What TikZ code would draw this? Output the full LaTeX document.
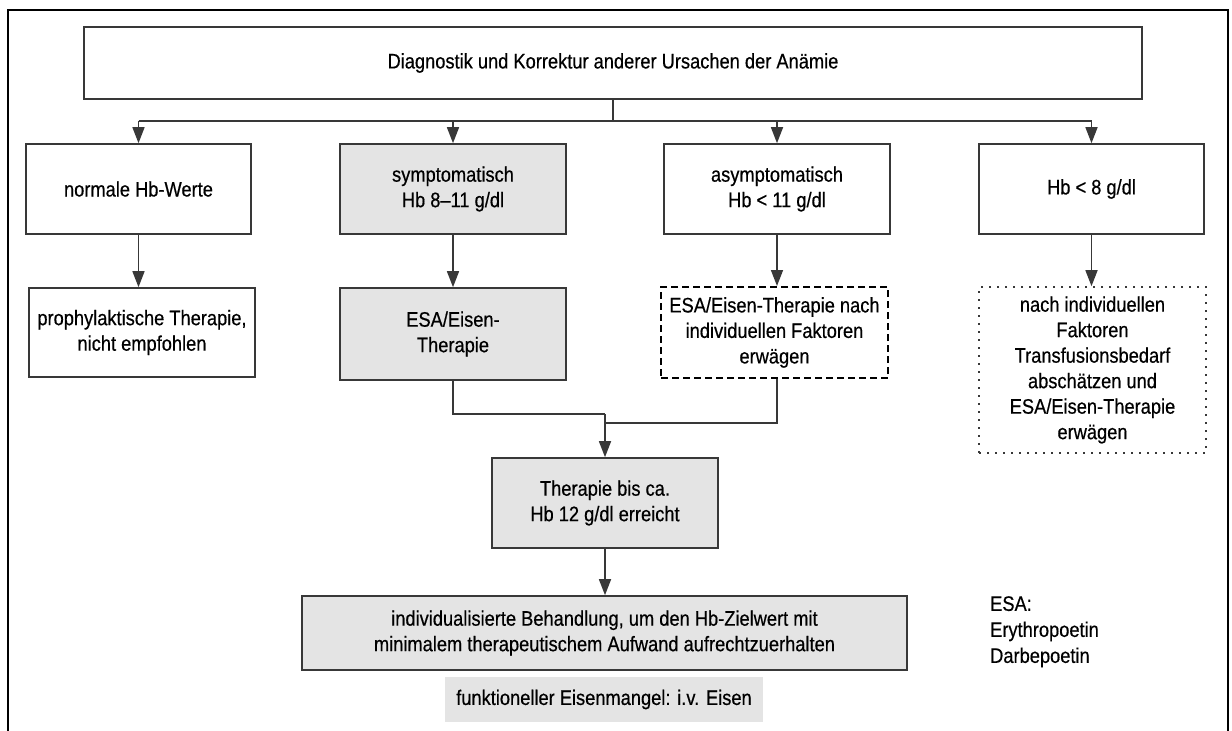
\documentclass[tikz,border=0pt]{standalone}
\usepackage{fontspec}
\setmainfont[FakeStretch=0.87,FakeBold=0.5]{Liberation Sans}
\usetikzlibrary{arrows.meta}
\definecolor{boxgray}{HTML}{E4E4E4}
\definecolor{linegray}{HTML}{383838}
\tikzset{
  fbox/.style={draw=linegray, line width=1.6pt, rectangle, inner sep=0pt, align=center,
    font=\fontsize{21}{25.5}\selectfont},
  graybox/.style={fbox, fill=boxgray},
  dashbox/.style={fbox, draw=black, line width=2pt, dash pattern=on 7pt off 4pt},
  dotbox/.style={fbox, draw=linegray, line width=1.6pt, dash pattern=on 1.6pt off 6.4pt},
  conn/.style={draw=linegray, line width=1.5pt},
  arr/.style={conn, -{Triangle[length=16pt,width=12pt]}},
}
\begin{document}
\begin{tikzpicture}[x=1pt,y=-1pt]
\useasboundingbox (0,0) rectangle (1232,731);
% outer frame
\draw[line width=2.5pt, black] (8,735) -- (8,10) -- (1228,10) -- (1228,735);

\node[fbox, minimum width=1058pt, minimum height=72pt] (top) at (613,63)
  {Diagnostik und Korrektur anderer Ursachen der Anämie};

\node[fbox, minimum width=225pt, minimum height=90pt] (r2a) at (138.5,189) {normale Hb-Werte};
\node[graybox, minimum width=226pt, minimum height=90pt] (r2b) at (453,189) {symptomatisch\\Hb 8–11 g/dl};
\node[fbox, minimum width=226pt, minimum height=90pt] (r2c) at (777,189) {asymptomatisch\\Hb < 11 g/dl};
\node[fbox, minimum width=225pt, minimum height=90pt] (r2d) at (1091.5,189) {Hb < 8 g/dl};

\node[fbox, minimum width=226pt, minimum height=89pt] (r3a) at (142,332.5) {prophylaktische Therapie,\\nicht empfohlen};
\node[graybox, minimum width=226pt, minimum height=92pt] (r3b) at (453,334) {ESA/Eisen-\\Therapie};
\node[dashbox, minimum width=227pt, minimum height=91pt] (r3c) at (774.5,332.5) {ESA/Eisen-Therapie nach\\individuellen Faktoren\\erwägen};
\node[dotbox, minimum width=227pt, minimum height=166pt] (r3d) at (1092.5,370) {nach individuellen\\Faktoren\\Transfusionsbedarf\\abschätzen und\\ESA/Eisen-Therapie\\erwägen};

\node[graybox, minimum width=226pt, minimum height=90pt] (ther) at (605,503) {Therapie bis ca.\\Hb 12 g/dl erreicht};
\node[graybox, minimum width=605pt, minimum height=74pt] (beh) at (604.5,633)
  {individualisierte Behandlung, um den Hb-Zielwert mit\\minimalem therapeutischem Aufwand aufrechtzuerhalten};
\node[fbox, draw=none, fill=boxgray, minimum width=318pt, minimum height=45pt] (eisen) at (604,699.5)
  {funktioneller Eisenmangel: i.v. Eisen};

\node[anchor=north west, inner sep=0pt, align=left, font=\fontsize{21}{26}\selectfont] (legend) at (990,596)
  {ESA:\\Erythropoetin\\Darbepoetin};

% bus from top box
\coordinate (busL) at (138.5,121);
\coordinate (busR) at (1091.5,121);
\draw[conn] (top.south) -- (top.south |- busL);
\draw[conn] (busL) -- (busR);
\draw[arr] (r2a.north |- busL) -- (r2a.north);
\draw[arr] (r2b.north |- busL) -- (r2b.north);
\draw[arr] (r2c.north |- busL) -- (r2c.north);
\draw[arr] (r2d.north |- busL) -- (r2d.north);

% row 2 -> row 3
\draw[arr] (r2a.south) -- (r2a.south |- r3a.north);
\draw[arr] (r2b.south) -- (r2b.south |- r3b.north);
\draw[arr] (r2c.south) -- (r2c.south |- r3c.north);
\draw[arr] (r2d.south) -- (r2d.south |- r3d.north);

% merge into therapy box
\coordinate (j1) at (605,414);
\coordinate (j2) at (605,423);
\draw[conn] (r3b.south) |- (j1);
\draw[conn] (r2c.south |- r3c.south) |- (j2);
\draw[arr] (j1) -- (ther.north);
\draw[arr] (ther.south) -- (ther.south |- beh.north);
\end{tikzpicture}
\end{document}
